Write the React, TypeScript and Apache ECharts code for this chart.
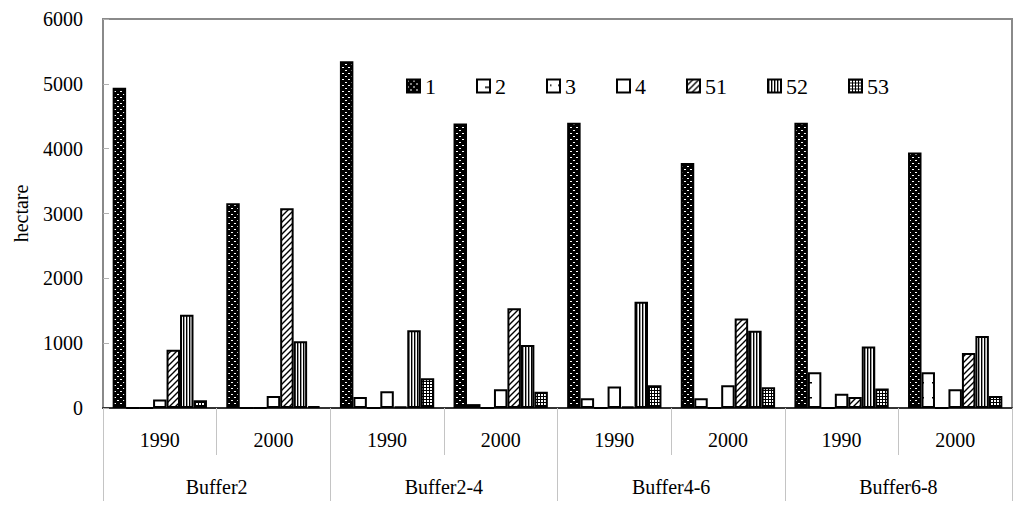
import React, { useEffect, useRef } from "react";
import * as echarts from "echarts";

const years = ["1990", "2000", "1990", "2000", "1990", "2000", "1990", "2000"];
const buffers = ["Buffer2", "Buffer2-4", "Buffer4-6", "Buffer6-8"];
const seriesNames = ["1", "2", "3", "4", "51", "52", "53"];
const s1 = [4940, 3160, 5350, 4390, 4400, 3780, 4400, 3940];
const s2 = [0, 0, 170, 60, 150, 150, 550, 550];
const s3 = [0, 0, 0, 0, 0, 0, 0, 0];
const s4 = [130, 185, 260, 290, 330, 350, 220, 290];
const s51 = [900, 3080, 20, 1540, 25, 1380, 170, 850];
const s52 = [1440, 1030, 1200, 970, 1640, 1190, 950, 1110];
const s53 = [120, 30, 460, 250, 350, 320, 300, 185];
const yTicks = [0, 1000, 2000, 3000, 4000, 5000, 6000];

const FONT = "Liberation Serif";

function makePattern(w: number, h: number, draw: (ctx: CanvasRenderingContext2D) => void) {
  const c = document.createElement("canvas");
  c.width = w;
  c.height = h;
  const ctx = c.getContext("2d") as CanvasRenderingContext2D;
  draw(ctx);
  return { image: c, repeat: "repeat", imageWidth: w, imageHeight: h } as any;
}

function buildPatterns() {
  const p1 = makePattern(6, 6, (ctx) => {
    ctx.fillStyle = "#000";
    ctx.fillRect(0, 0, 6, 6);
    ctx.fillStyle = "#fff";
    ctx.fillRect(0, 1, 2, 1);
    ctx.fillRect(3, 4, 2, 1);
  });
  const p2 = makePattern(14, 15, (ctx) => {
    ctx.fillStyle = "#fff";
    ctx.fillRect(0, 0, 14, 15);
    ctx.fillStyle = "#000";
    ctx.fillRect(8, 7, 6, 1.5);
  });
  const p3 = makePattern(8, 8, (ctx) => {
    ctx.fillStyle = "#fff";
    ctx.fillRect(0, 0, 8, 8);
    ctx.fillStyle = "#000";
    ctx.fillRect(3, 5, 1.5, 1.5);
  });
  const p4 = "#ffffff";
  const p51 = makePattern(6, 6, (ctx) => {
    ctx.fillStyle = "#fff";
    ctx.fillRect(0, 0, 6, 6);
    ctx.strokeStyle = "#000";
    ctx.lineWidth = 1.4;
    ctx.beginPath();
    ctx.moveTo(-1, 7);
    ctx.lineTo(7, -1);
    ctx.moveTo(-4, 4);
    ctx.lineTo(4, -4);
    ctx.moveTo(2, 10);
    ctx.lineTo(10, 2);
    ctx.stroke();
  });
  const p52 = makePattern(3, 3, (ctx) => {
    ctx.fillStyle = "#fff";
    ctx.fillRect(0, 0, 3, 3);
    ctx.fillStyle = "#000";
    ctx.fillRect(0, 0, 1.4, 3);
  });
  const p53 = makePattern(3, 3, (ctx) => {
    ctx.fillStyle = "#fff";
    ctx.fillRect(0, 0, 3, 3);
    ctx.fillStyle = "#000";
    ctx.fillRect(0, 0, 1, 3);
    ctx.fillRect(0, 0, 3, 1);
  });
  return [p1, p2, p3, p4, p51, p52, p53];
}

export default function App() {
  const ref = useRef<HTMLDivElement>(null);
  useEffect(() => {
    if (!ref.current) return;
    const chart = echarts.init(ref.current, null, { renderer: "svg" });
    const patterns = buildPatterns();
    const dataSets = [s1, s2, s3, s4, s51, s52, s53];
    const series = seriesNames.map((name, i) => ({
      name,
      type: "bar",
      xAxisIndex: 0,
      yAxisIndex: 0,
      data: dataSets[i],
      barGap: "0%",
      barCategoryGap: "17%",
      itemStyle: {
        color: patterns[i],
        borderColor: "#000",
        borderWidth: 2,
      },
    }));
    chart.setOption({
      animation: false,
      backgroundColor: "#fff",
      textStyle: { fontFamily: FONT },
      grid: {
        left: 103,
        right: 12,
        top: 19,
        bottom: 104,
        show: true,
        borderColor: "#8a8a8a",
        borderWidth: 2,
        containLabel: false,
      },
      legend: {
        data: seriesNames,
        left: 401,
        top: 70,
        itemGap: 40,
        itemWidth: 13,
        itemHeight: 13,
        icon: "rect",
        textStyle: { fontFamily: FONT, fontSize: 22, color: "#000" },
      },
      xAxis: [
        {
          type: "category",
          data: years,
          position: "bottom",
          axisLine: { show: true, lineStyle: { color: "#333", width: 2 } },
          axisTick: { show: true, length: 47, interval: 0, lineStyle: { color: "#c4c4c4", width: 1 } },
          axisLabel: { fontFamily: FONT, fontSize: 20, color: "#000", margin: 22, interval: 0 },
        },
        {
          type: "category",
          data: buffers,
          position: "bottom",
          axisLine: { show: false },
          axisTick: { show: true, length: 93, interval: 0, lineStyle: { color: "#c4c4c4", width: 1 } },
          axisLabel: { fontFamily: FONT, fontSize: 20, color: "#000", margin: 69, interval: 0 },
        },
      ],
      yAxis: {
        type: "value",
        min: yTicks[0],
        max: yTicks[yTicks.length - 1],
        interval: 1000,
        name: "hectare",
        nameLocation: "middle",
        nameGap: 72,
        nameTextStyle: { fontFamily: FONT, fontSize: 20, color: "#000" },
        axisLine: { show: true, lineStyle: { color: "#8a8a8a", width: 2 } },
        axisTick: { show: true, inside: true, length: 6, lineStyle: { color: "#b0b0b0" } },
        splitLine: { show: false },
        axisLabel: {
          fontFamily: FONT,
          fontSize: 20,
          color: "#000",
          margin: 20,
          formatter: (v: number) => String(v),
        },
      },
      series,
    });
    return () => chart.dispose();
  }, []);
  return <div ref={ref} style={{ width: 1024, height: 512, position: "absolute", left: 0, top: 0 }} />;
}
